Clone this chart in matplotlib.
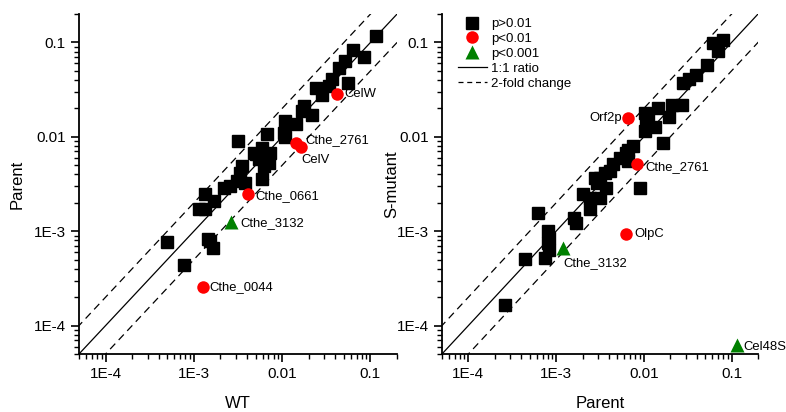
import numpy as np
import matplotlib
matplotlib.use("Agg")
import matplotlib.pyplot as plt
from matplotlib.lines import Line2D

plt.rcParams['font.family'] = ['Liberation Sans', 'DejaVu Sans']

# ---- left panel: WT vs Parent ----
wt_ns = [0.116, 0.063, 0.084, 0.052, 0.044, 0.056, 0.037, 0.034, 0.024, 0.028,
         0.0176, 0.017, 0.0219, 0.0109, 0.0145, 0.0068, 0.0104, 0.0109, 0.0032,
         0.00476, 0.00593, 0.00736, 0.00543, 0.00704, 0.00618, 0.00512, 0.00352,
         0.00337, 0.00384, 0.00309, 0.00593, 0.00218, 0.0026, 0.00135, 0.00168,
         0.00135, 0.00113, 4.97e-4, 7.66e-4, 1.44e-3, 1.51e-3, 1.63e-3]
par_ns = [0.116, 0.0835, 0.071, 0.064, 0.054, 0.037, 0.041, 0.035, 0.033, 0.0275,
          0.021, 0.0188, 0.0169, 0.0147, 0.0136, 0.0106, 0.0109, 0.0099, 0.009,
          0.0068, 0.00767, 0.0068, 0.00577, 0.00532, 0.0049, 0.00652, 0.0049,
          0.00417, 0.00327, 0.0034, 0.00354, 0.00289, 0.003, 0.00245, 0.00208,
          0.00173, 0.0017, 7.64e-4, 4.43e-4, 8.3e-4, 7.97e-4, 6.6e-4]

wt_p01 = [0.042, 0.0145, 0.0162, 0.00407, 0.00127]
par_p01 = [0.0282, 0.00867, 0.0078, 0.00245, 2.55e-4]
lab_p01_left = ["CelW", "Cthe_2761", "CelV", "Cthe_0661", "Cthe_0044"]
off_p01_left = [(5, 0), (6.5, 2), (0.7, -9), (5.5, -1), (4.7, 0)]

wt_p001 = [0.00266]
par_p001 = [1.25e-3]
lab_p001_left = ["Cthe_3132"]
off_p001_left = [(6.5, -1)]

# ---- right panel: Parent vs S-mutant ----
par2_ns = [0.0805, 0.062, 0.0707, 0.053, 0.0392, 0.033, 0.0282, 0.021, 0.0269,
           0.0144, 0.0192, 0.0102, 0.0111, 0.0135, 0.0105, 0.0102, 0.0167, 0.0075,
           0.00659, 0.00631, 0.00531, 0.00659, 0.00446, 0.00409, 0.00359, 0.00315,
           0.00277, 0.00289, 0.00375, 0.00893, 0.00204, 0.00243, 0.00315, 0.00243,
           6.3e-4, 1.61e-3, 1.69e-3, 8.05e-4, 8.18e-4, 8.4e-4, 7.5e-4, 4.46e-4,
           2.6e-4, 8.2e-4]
smut_ns = [0.1066, 0.098, 0.0815, 0.0574, 0.045, 0.0415, 0.0376, 0.0216, 0.0216,
           0.0204, 0.0164, 0.0178, 0.0151, 0.0128, 0.0132, 0.0115, 0.00868, 0.00798,
           0.00724, 0.0068, 0.00601, 0.00553, 0.0051, 0.00434, 0.00417, 0.00369,
           0.00369, 0.00327, 0.00289, 0.00289, 0.00245, 0.00226, 0.00226, 0.0017,
           1.57e-3, 1.39e-3, 1.23e-3, 1.0e-3, 7.53e-4, 6.4e-4, 5.2e-4, 5.13e-4,
           1.64e-4, 8.57e-4]

par2_p01 = [0.00659, 0.00834, 0.00631]
smut_p01 = [0.016, 0.0051, 9.4e-4]
lab_p01_right = ["Orf2p", "Cthe_2761", "OlpC"]
off_p01_right = [(-4.3, 0), (6, -2), (6, 0)]

par2_p001 = [1.21e-3, 0.114]
smut_p001 = [6.67e-4, 6.27e-5]
lab_p001_right = ["Cthe_3132", "Cel48S"]
off_p001_right = [(0, -11), (4.7, -1.6)]

lims = (5e-5, 0.2)
red = "#FF0000"
green = "#008000"


def draw_panel(ax, x_ns, y_ns, x1, y1, l1, o1, x2, y2, l2, o2, xlabel, ylabel, ypad):
    ref = np.array([1e-5, 1.0])
    ax.plot(ref, ref, color="black", lw=0.9, zorder=1)
    ax.plot(ref, 2 * ref, color="black", lw=0.9, ls=(0, (6, 4)), zorder=1)
    ax.plot(ref, ref / 2, color="black", lw=0.9, ls=(0, (6, 4)), zorder=1)

    ax.plot(x_ns, y_ns, "s", color="black", ms=8.5, zorder=3)
    ax.plot(x1, y1, "o", color=red, ms=9, mec="none", zorder=4)
    ax.plot(x2, y2, "^", color=green, ms=9.5, mec="none", zorder=4)

    for xs, ys, labs, offs in [(x1, y1, l1, o1), (x2, y2, l2, o2)]:
        for x, y, lab, off in zip(xs, ys, labs, offs):
            ha = "right" if off[0] < 0 else "left"
            ax.annotate(lab, (x, y), xytext=off, textcoords="offset points",
                        ha=ha, va="center", fontsize=9.4, zorder=5)

    ax.set_xscale("log")
    ax.set_yscale("log")
    ax.set_xlim(lims)
    ax.set_ylim(lims)
    ax.set_xticks([1e-4, 1e-3, 1e-2, 1e-1])
    ax.set_xticklabels(["1E-4", "1E-3", "0.01", "0.1"])
    ax.set_yticks([1e-4, 1e-3, 1e-2, 1e-1])
    ax.set_yticklabels(["1E-4", "1E-3", "0.01", "0.1"])
    ax.spines["top"].set_visible(False)
    ax.spines["right"].set_visible(False)
    for s in ["left", "bottom"]:
        ax.spines[s].set_linewidth(1.3)
    ax.tick_params(which="major", direction="out", length=6, width=1.2, labelsize=11)
    ax.tick_params(which="minor", direction="out", length=3.5, width=1.0)
    ax.set_xlabel(xlabel, fontsize=12, labelpad=11)
    ax.set_ylabel(ylabel, fontsize=12, labelpad=ypad)


fig = plt.figure(figsize=(7.86, 4.12), dpi=100)
ax1 = fig.add_axes([0.1005, 0.1408, 0.4046, 0.825])
ax2 = fig.add_axes([0.5623, 0.1408, 0.402, 0.825])

draw_panel(ax1, wt_ns, par_ns, wt_p01, par_p01, lab_p01_left, off_p01_left,
           wt_p001, par_p001, lab_p001_left, off_p001_left, "WT", "Parent", 6.5)
draw_panel(ax2, par2_ns, smut_ns, par2_p01, smut_p01, lab_p01_right, off_p01_right,
           par2_p001, smut_p001, lab_p001_right, off_p001_right, "Parent", "S-mutant", -2)

handles = [
    Line2D([], [], ls="none", marker="s", color="black", ms=8.5),
    Line2D([], [], ls="none", marker="o", color=red, mec="none", ms=9),
    Line2D([], [], ls="none", marker="^", color=green, mec="none", ms=9.5),
    Line2D([], [], color="black", lw=0.9),
    Line2D([], [], color="black", lw=0.9, ls=(0, (4, 3))),
]
labels = ["p>0.01", "p<0.01", "p<0.001", "1:1 ratio", "2-fold change"]
ax2.legend(handles, labels, loc="upper left", bbox_to_anchor=(0.025, 1.012),
           frameon=False, fontsize=9.5, handlelength=2.2, handletextpad=0.3,
           labelspacing=0.2, borderaxespad=0.2)

fig.savefig("out.png", dpi=100)
